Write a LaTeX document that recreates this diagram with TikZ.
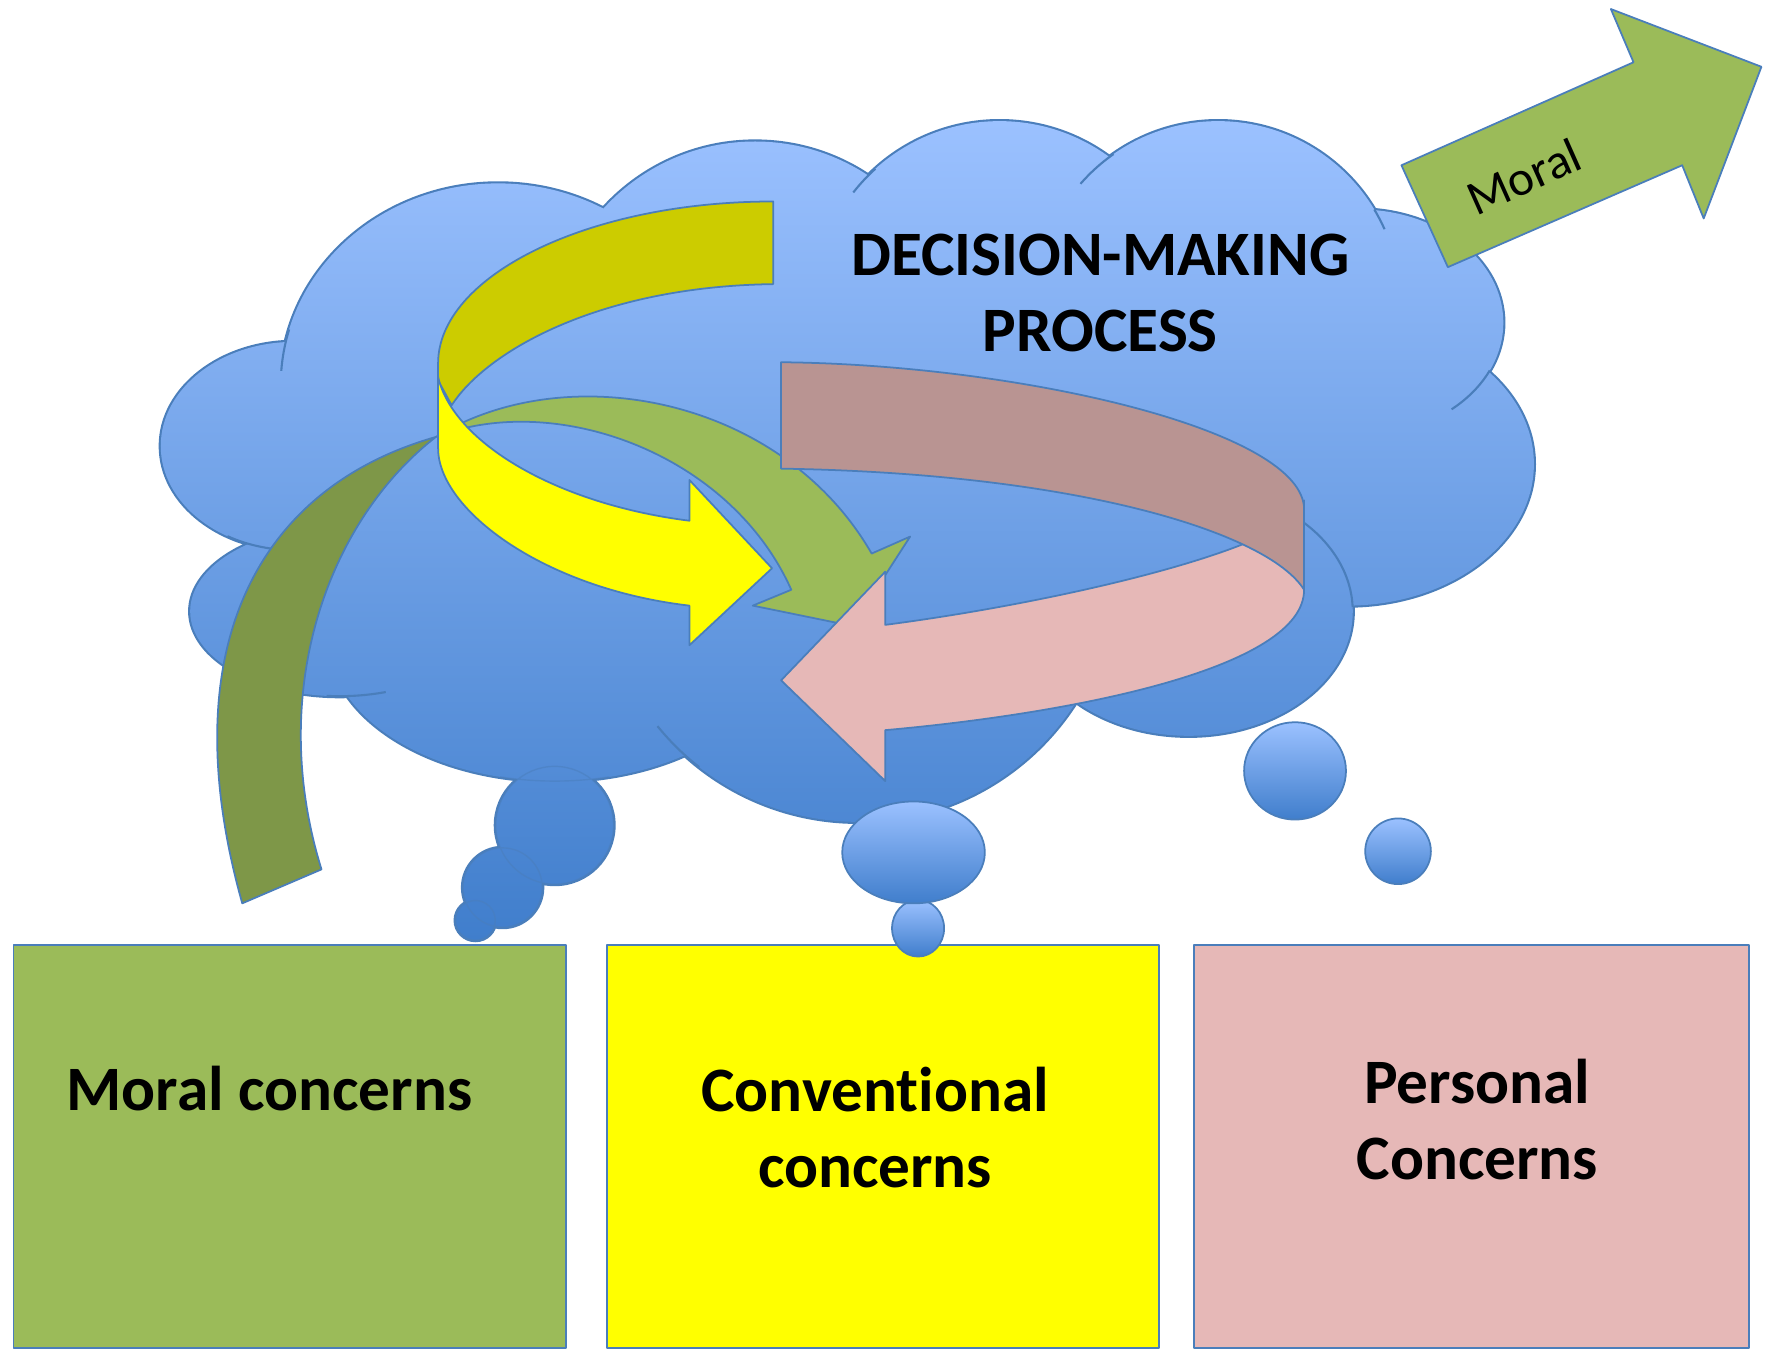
\documentclass[tikz,border=0pt]{standalone}
\usepackage{fontspec}
\setmainfont{Carlito}[Ligatures=NoCommon]
\definecolor{edge}{RGB}{74,126,187}
\definecolor{cloudtop}{RGB}{155,193,255}
\definecolor{cloudbot}{RGB}{64,126,204}
\definecolor{leaf}{RGB}{155,187,89}
\definecolor{leafdark}{RGB}{126,151,72}
\definecolor{lemon}{RGB}{255,255,0}
\definecolor{lemondark}{RGB}{204,204,0}
\definecolor{rose}{RGB}{230,184,183}
\definecolor{rosedark}{RGB}{185,148,146}
\begin{document}
\begin{tikzpicture}[x=0.01132cm, y=-0.01132cm,
  outl/.style={draw=edge, line width=0.5pt, line join=round},
  bubble/.style={outl, top color=cloudtop, bottom color=cloudbot},
  crease/.style={draw=edge, line width=0.6pt},
  bigtext/.style={font=\bfseries\fontsize{18}{21.6}\selectfont, align=center},
  lobes/.style={insert path={
    (440,340) ellipse [x radius=192, y radius=178]
    (667,306) circle [radius=181]
    (883,271) circle [radius=164]
    (1076,268) circle [radius=161]
    (1200,285) ellipse [x radius=128, y radius=100]
    (1190,410) ellipse [x radius=165, y radius=125]
    (1050,540) ellipse [x radius=145, y radius=110]
    (758,498) circle [radius=228]
    (490,564) ellipse [x radius=200, y radius=126]
    (300,540) ellipse [x radius=132, y radius=75]
    (260,394) ellipse [x radius=118, y radius=92]
    (760,400) ellipse [x radius=400, y radius=200]
    (490,729) circle [radius=52]
    (444,784) circle [radius=35]
    (420,813) circle [radius=17.5]}}]
\useasboundingbox (0,0) rectangle (1568,1193);

% cloud: stroke every lobe, then shade over the inner halves
\path[draw=edge, line width=1.2pt, lobes];
\path[top color=cloudtop, bottom color=cloudbot, lobes];
\draw[edge, line width=0.4pt, opacity=0.5]
  (490,729) circle [radius=52] (444,784) circle [radius=35] (420,813) circle [radius=17.5]
  plot[domain=76:104, smooth] ({490+200*cos(\x)}, {564+126*sin(\x)});
\foreach \cx/\cy/\rx/\ry/\a/\b in {440/340/192/178/184/196, 260/394/118/92/97/120,
    300/540/132/75/72/95, 758/498/228/228/128/141, 883/271/164/164/218/228,
    1076/268/161/161/221/235, 1076/268/161/161/-31/-24, 1200/285/128/100/25/50,
    1050/540/145/110/-46/-2}
  \draw[crease] plot[domain=\a:\b, smooth, samples=12] ({\cx+\rx*cos(\x)}, {\cy+\ry*sin(\x)});

% concern boxes
\draw[outl, fill=leaf] (12,835) rectangle (500,1191);
\draw[outl, fill=lemon] (536,835) rectangle (1024,1191);
\draw[outl, fill=rose] (1055,835) rectangle (1545,1191);
\node[bigtext] (moral) at (238,962) {Moral concerns};
\node[bigtext] (conventional) at (773,996) {Conventional\\concerns};
\node[bigtext] (personal) at (1305,989) {Personal\\Concerns};

% thought bubbles
\draw[bubble] (811,820) ellipse [x radius=23, y radius=25];
\draw[bubble] (807,753) ellipse [x radius=63, y radius=45];
\draw[bubble] (1144,681) ellipse [x radius=45, y radius=43];
\draw[bubble] (1235,752) ellipse [x radius=29, y radius=29];

% green ribbon arrow
\draw[outl, fill=leafdark] (214,798) -- (284,768)
  .. controls (235,610) and (290,460) .. (385,386)
  .. controls (230,430) and (150,570) .. (214,798) -- cycle;
\draw[outl, fill=leaf] (385,386) .. controls (500,315) and (690,350) .. (770,489)
  -- (804,474) -- (753,553) -- (665,535) -- (699,521)
  .. controls (645,400) and (490,345) .. (385,386) -- cycle;

% yellow ribbon arrow
\draw[outl, fill=lemondark] (683,178) .. controls (519,178) and (387,244) .. (387,321)
  -- (387,336) -- (399,358) .. controls (430,310) and (530,253) .. (683,251) -- cycle;
\draw[outl, fill=lemon] (387,333) -- (387,396) .. controls (387,450) and (480,520) .. (609,535)
  -- (609,570) -- (682,502) -- (609,424) -- (609,460)
  .. controls (490,445) and (400,390) .. (387,333) -- cycle;

% pink ribbon arrow
\draw[outl, fill=rose] (1152,442) .. controls (1152,480) and (950,530) .. (782,552)
  -- (782,505) -- (690,601) -- (782,690) -- (782,645)
  .. controls (950,630) and (1152,590) .. (1152,521) -- cycle;
\draw[outl, fill=rosedark] (690,320) .. controls (900,322) and (1152,380) .. (1152,450)
  -- (1152,521) .. controls (1120,470) and (950,418) .. (690,414) -- cycle;

% outgoing arrow
\draw[outl, fill=leaf] (1238,146) -- (1443,55) -- (1423,8) -- (1556,59) -- (1505,193)
  -- (1486,146) -- (1279,236) -- cycle;
\node[rotate=24, font=\fontsize{14}{17}\selectfont] (out) at (1346,156) {Moral};

\node[bigtext] (process) at (972,259) {DECISION-MAKING\\PROCESS};
\end{tikzpicture}
\end{document}
